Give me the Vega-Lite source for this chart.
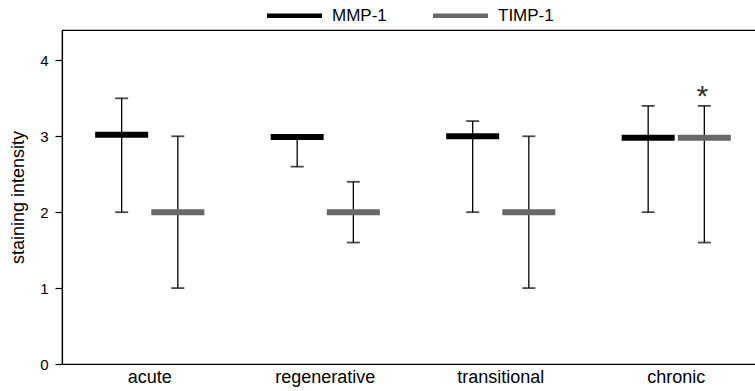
{
  "$schema": "https://vega.github.io/schema/vega-lite/v6.json",
  "width": 702,
  "height": 334,
  "autosize": {"type": "none"},
  "padding": {"left": 62, "top": 30, "right": 0, "bottom": 27},
  "background": "white",
  "config": {
    "font": "Liberation Sans",
    "view": {"stroke": "black", "strokeWidth": 1.2},
    "axis": {"grid": false, "domainColor": "black", "tickColor": "black", "labelColor": "black", "titleColor": "black", "labelFont": "Liberation Sans", "titleFont": "Liberation Sans"}
  },
  "data": {
    "values": [
      {"category": "acute", "series": "MMP-1", "value": 3.02, "lo": 2, "hi": 3.5, "sig": ""},
      {"category": "acute", "series": "TIMP-1", "value": 2, "lo": 1, "hi": 3, "sig": ""},
      {"category": "regenerative", "series": "MMP-1", "value": 2.99, "lo": 2.6, "hi": 3, "sig": ""},
      {"category": "regenerative", "series": "TIMP-1", "value": 2, "lo": 1.6, "hi": 2.4, "sig": ""},
      {"category": "transitional", "series": "MMP-1", "value": 3, "lo": 2, "hi": 3.2, "sig": ""},
      {"category": "transitional", "series": "TIMP-1", "value": 2, "lo": 1, "hi": 3, "sig": ""},
      {"category": "chronic", "series": "MMP-1", "value": 2.98, "lo": 2, "hi": 3.4, "sig": ""},
      {"category": "chronic", "series": "TIMP-1", "value": 2.98, "lo": 1.6, "hi": 3.4, "sig": "*"}
    ]
  },
  "encoding": {
    "x": {
      "field": "category", "type": "nominal",
      "sort": ["acute", "regenerative", "transitional", "chronic"],
      "scale": {"paddingInner": 0.36, "paddingOuter": 0.18},
      "axis": {"title": null, "labelAngle": 0, "ticks": false, "labelFontSize": 18, "labelPadding": 4, "domainWidth": 1.2}
    },
    "xOffset": {"field": "series", "type": "nominal", "sort": ["MMP-1", "TIMP-1"]}
  },
  "layer": [
    {
      "mark": {"type": "rule", "color": "black", "strokeWidth": 1.3},
      "encoding": {
        "y": {"field": "lo", "type": "quantitative", "scale": {"domain": [0, 4.4], "nice": false},
          "axis": {"title": "staining intensity", "values": [0, 1, 2, 3, 4], "format": "d", "tickSize": 7, "tickWidth": 1.2, "labelFontSize": 15, "titleFontSize": 18, "titleFontWeight": "normal", "labelPadding": 7, "titlePadding": 12, "domainWidth": 1.2}},
        "y2": {"field": "hi"}
      }
    },
    {
      "mark": {"type": "tick", "color": "black", "size": 13, "thickness": 1.8, "orient": "horizontal"},
      "encoding": {"y": {"field": "lo", "type": "quantitative"}}
    },
    {
      "mark": {"type": "tick", "color": "black", "size": 13, "thickness": 1.8, "orient": "horizontal"},
      "encoding": {"y": {"field": "hi", "type": "quantitative"}}
    },
    {
      "mark": {"type": "tick", "size": 53, "thickness": 6, "orient": "horizontal", "opacity": 1},
      "encoding": {
        "y": {"field": "value", "type": "quantitative"},
        "color": {"field": "series", "type": "nominal",
          "scale": {"domain": ["MMP-1", "TIMP-1"], "range": ["black", "#686868"]},
          "legend": {"title": null, "orient": "none", "legendX": 205, "legendY": -42, "direction": "horizontal", "padding": 0,
            "symbolType": "M-1,-0.085H1V0.085H-1Z", "symbolStrokeWidth": 0, "symbolSize": 3025, "labelFontSize": 17, "labelOffset": 10, "columnPadding": 46, "symbolOpacity": 1}}
      }
    },
    {
      "mark": {"type": "text", "fontSize": 30, "color": "#333", "baseline": "middle", "dy": 8, "dx": -2},
      "encoding": {
        "y": {"datum": 3.62, "type": "quantitative"},
        "text": {"field": "sig"}
      }
    }
  ]
}
